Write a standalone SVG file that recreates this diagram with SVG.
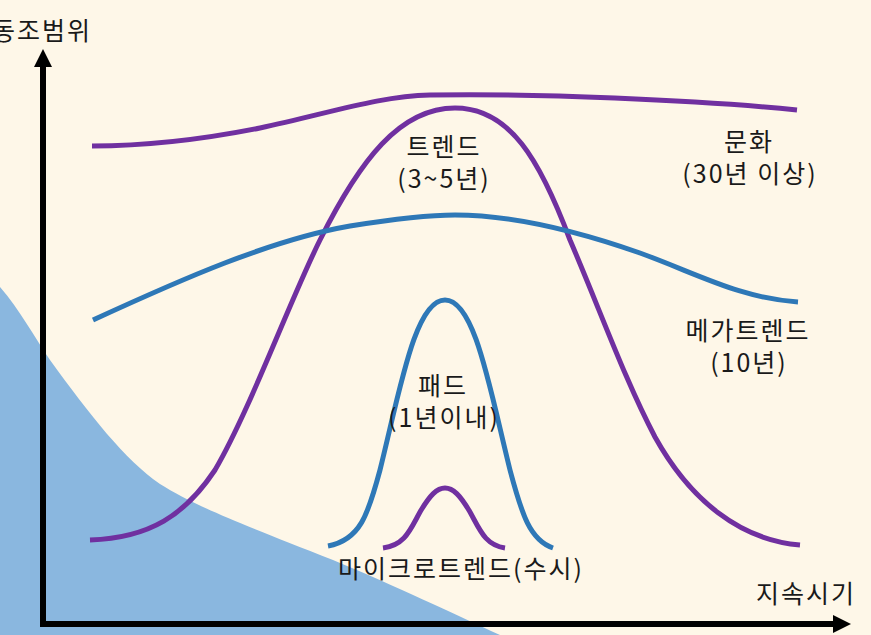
<svg xmlns="http://www.w3.org/2000/svg" width="871" height="635" viewBox="0 0 871 635">
<style>
.lbl{font-family:"Noto Sans CJK KR","Noto Sans",sans-serif;font-size:25px;letter-spacing:2px;fill:#1a1a1a;text-anchor:middle}
.pur{fill:none;stroke:#7030A0;stroke-width:5;stroke-linecap:butt}
.blu{fill:none;stroke:#2E78B7;stroke-width:5;stroke-linecap:butt}
.axis{fill:none;stroke:#000;stroke-width:6}
</style>
<defs>
<marker id="arr" markerUnits="userSpaceOnUse" markerWidth="18" markerHeight="18" viewBox="0 0 18 18" refX="2" refY="9" orient="auto">
<path d="M0,0 L18,9 L0,18 z" fill="#000"/>
</marker>
</defs>
<rect width="871" height="635" fill="#FEF7E8"/>
<path id="area" d="M0,287 C20,310 35,338 50,360 C90,415 125,460 160,484 C190,503 230,520 333,560 C400,588 450,612 500,635 L0,635 Z" fill="#8AB7DF"/>
<g id="culture">
<path class="pur" d="M92,146 C150,146 200,140 260,128 C330,113 380,96 430,95 C530,93 700,100 797,110"/>
<text class="lbl" x="749" y="151">문화</text>
<text class="lbl" x="750" y="183">(30년 이상)</text>
</g>
<g id="trend">
<path class="pur" d="M90,540 C150,538 185,515 215,470 C250,410 290,300 320,240 C360,160 400,108 455,108 C510,108 540,160 570,240 C600,310 625,380 655,437 C690,500 740,540 800,545"/>
<text class="lbl" x="444" y="156">트렌드</text>
<text class="lbl" x="444" y="188">(3~5년)</text>
</g>
<g id="megatrend">
<path class="blu" d="M93,320 C180,280 270,240 350,226 C400,218 430,215 455,215 C500,215 560,225 640,253 C700,275 740,298 798,302"/>
<text class="lbl" x="748" y="340">메가트렌드</text>
<text class="lbl" x="749" y="372">(10년)</text>
</g>
<g id="fad">
<path class="blu" d="M328,546 C360,540 368,515 380,470 C400,390 415,300 445,300 C475,300 490,390 510,470 C522,515 530,540 553,548"/>
<text class="lbl" x="443" y="395">패드</text>
<text class="lbl" x="444" y="427">(1년이내)</text>
</g>
<g id="microtrend">
<path class="pur" d="M383,548 C405,545 410,530 420,512 C430,495 437,488 445,488 C453,488 460,495 470,512 C480,530 485,545 505,548"/>
<text class="lbl" x="461" y="578">마이크로트렌드(수시)</text>
</g>
<g id="connectors">
<line class="axis" x1="43" y1="627" x2="43" y2="65" marker-end="url(#arr)"/>
<line class="axis" x1="40" y1="624" x2="835" y2="624" marker-end="url(#arr)"/>
</g>
<g id="axis-labels">
<text class="lbl" x="42" y="40">동조범위</text>
<text class="lbl" x="806" y="603">지속시기</text>
</g>
</svg>
